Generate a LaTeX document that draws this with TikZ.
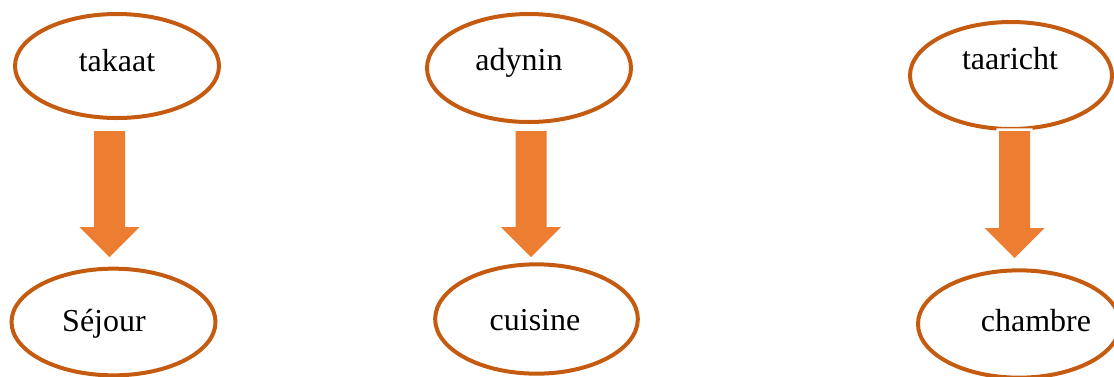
\documentclass[tikz,border=0pt]{standalone}
\usepackage{fontspec}
\setmainfont{Liberation Serif}
\usetikzlibrary{shapes.geometric,calc}

\definecolor{ovalline}{HTML}{C55A11}
\definecolor{arrowfill}{HTML}{ED7D31}

\tikzset{
    oval/.style={ellipse, draw=ovalline, line width=3pt, inner sep=0pt,
        minimum width=153pt, minimum height=79.5pt},
    word/.style={font=\fontsize{24}{28}\selectfont, inner sep=0pt, anchor=base},
}

% block arrow from shaft top #2 to tip #3
\newcommand{\blockarrow}[3][]{%
    \fill[arrowfill, #1] ($(#2)+(-15.5,0)$) -- ($(#2)+(15.5,0)$)
        -- ($(#3)+(15.5,-30)$) -- ($(#3)+(30,-30)$) -- (#3)
        -- ($(#3)+(-30,-30)$) -- ($(#3)+(-15.5,-30)$) -- cycle;}

\begin{document}
\begin{tikzpicture}[x=0.75pt, y=-0.75pt]
    \useasboundingbox (0,0) rectangle (1114,376);

    \begin{scope}
        \node[oval, minimum height=78pt] (takaat) at (117,66) {};
        \node[word] (takaat-txt) at (117,71) {takaat};
        \node[oval, minimum height=80pt] (sejour) at (113.5,322) {};
        \node[word] (sejour-txt) at (104,331) {Séjour};

        \coordinate (A1) at (109.5,131);
        \coordinate (B1) at (109.5,257);
        \blockarrow{A1}{B1}
    \end{scope}

    \begin{scope}
        \node[oval, minimum height=81pt] (adynin) at (529,68) {};
        \node[word] (adynin-txt) at (519,70) {adynin};
        \node[oval, minimum height=82pt, minimum width=152pt] (cuisine) at (536.5,319) {};
        \node[word] (cuisine-txt) at (535,330) {cuisine};

        \coordinate (A3) at (531,131);
        \coordinate (B3) at (531,257);
        \blockarrow{A3}{B3}
    \end{scope}

    \begin{scope}
        \node[oval, minimum width=151.5pt, minimum height=80.25pt] (taaricht) at (1011,75.5) {};
        \node[word] (taaricht-txt) at (1010,69) {taaricht};
        \node[oval, minimum width=151.5pt, minimum height=80.5pt] (chambre) at (1019,324) {};
        \node[word] (chambre-txt) at (1036,331) {chambre};

        \coordinate (A5) at (1014.5,131);
        \coordinate (B5) at (1014.5,258);
        \blockarrow[preaction={draw=white, line width=4pt}]{A5}{B5}
    \end{scope}
\end{tikzpicture}
\end{document}
